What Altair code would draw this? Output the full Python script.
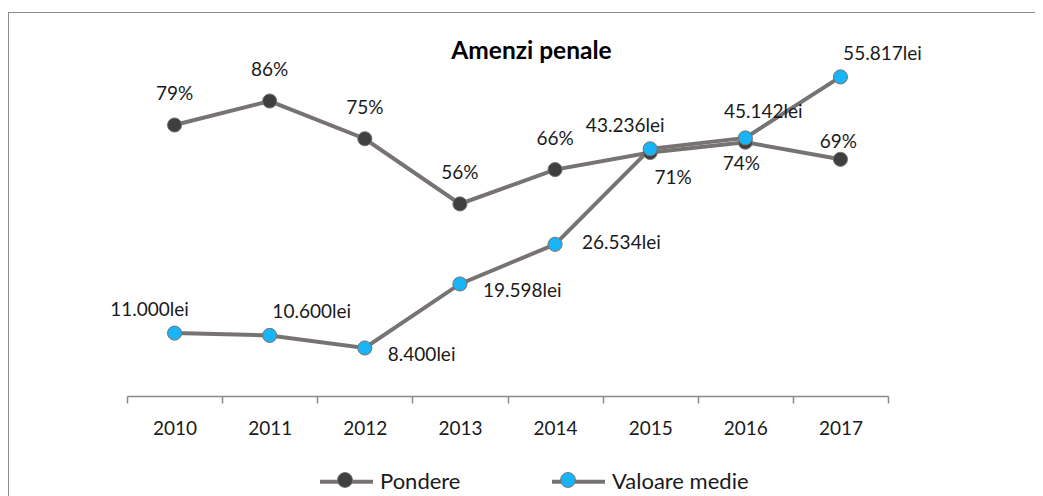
import altair as alt
import pandas as pd

# ---- data ----
years = ["2010", "2011", "2012", "2013", "2014", "2015", "2016", "2017"]
pondere = [79, 86, 75, 56, 66, 71, 74, 69]                     # %
valoare = [11000, 10600, 8400, 19598, 26534, 43236, 45142, 55817]  # lei
series_names = ["Pondere", "Valoare medie"]
pondere_label_pos = ["above", "above", "above", "above", "above", "below_right", "below", "above_near"]
valoare_label_pos = ["above_left", "above_right", "right", "right", "right_mid", "above_left", "above", "above_right"]

LINE = "#777373"
DARK = "#3f3f3f"
BLUE = "#18b4f5"
TXT = "#1a1a1a"
FRAME = "#8c8c8c"
FONT = "Lato"

df_p = pd.DataFrame({"year": years, "value": pondere, "series": series_names[0], "pos": pondere_label_pos})
df_p["label"] = df_p["value"].map(lambda v: f"{v}%")
df_v = pd.DataFrame({"year": years, "value": valoare, "series": series_names[1], "pos": valoare_label_pos})
df_v["label"] = df_v["value"].map(lambda v: f"{v:,}".replace(",", ".") + "lei")

x_enc = alt.X("year:N", sort=years,
              scale=alt.Scale(paddingInner=0, paddingOuter=0),
              axis=alt.Axis(title=None, labelAngle=0, tickBand="extent", grid=False,
                            domainColor="#8a8a8a", domainWidth=1.5, tickColor="#8a8a8a",
                            tickWidth=1.5, tickSize=7, labelFont=FONT, labelFontSize=19,
                            labelColor=TXT, labelPadding=16))
yp_scale = alt.Scale(domain=[0, 100], nice=False, zero=True)
yv_scale = alt.Scale(domain=[0, 60000], nice=False, zero=True)

legend_common = dict(title=None, orient="none", direction="horizontal", legendX=191, legendY=400,
                     symbolSize=2809, labelFont=FONT, labelFontSize=22, labelColor=TXT,
                     labelOffset=5, columnPadding=83, padding=0)

stroke_enc = alt.Stroke("series:N",
                        scale=alt.Scale(range=[LINE, LINE]),
                        legend=alt.Legend(symbolType="stroke", symbolStrokeWidth=4, zindex=1,
                                          **legend_common))
circle_path = "M-0.28,0A0.28,0.28 0 1,0 0.28,0A0.28,0.28 0 1,0 -0.28,0Z"
fill_enc = alt.Fill("series:N",
                    scale=alt.Scale(domain=series_names, range=[DARK, BLUE]),
                    legend=alt.Legend(symbolType=circle_path, symbolStrokeColor=LINE,
                                      symbolStrokeWidth=1, zindex=2, labelOpacity=0,
                                      **legend_common))

# outer chart frame (only its top and left edges fall inside the picture)
frame_base = alt.Chart(pd.DataFrame({"a": [0]}))
frame_top = frame_base.mark_rule(stroke=FRAME, strokeWidth=1).encode(
    x=alt.value(-119.5), x2=alt.value(3000), y=alt.value(-40.5))
frame_left = frame_base.mark_rule(stroke=FRAME, strokeWidth=1).encode(
    x=alt.value(-118.5), y=alt.value(-40.5), y2=alt.value(3000))

line_p = alt.Chart(df_p).mark_line(strokeWidth=4).encode(
    x=x_enc, y=alt.Y("value:Q", scale=yp_scale, axis=None), stroke=stroke_enc)
line_v = alt.Chart(df_v).mark_line(strokeWidth=4).encode(
    x=x_enc, y=alt.Y("value:Q", scale=yv_scale, axis=None), stroke=stroke_enc)
pt_p = alt.Chart(df_p).mark_point(filled=True, size=200, opacity=1, stroke=LINE, strokeWidth=1).encode(
    x=x_enc, y=alt.Y("value:Q", scale=yp_scale, axis=None), fill=fill_enc)
pt_v = alt.Chart(df_v).mark_point(filled=True, size=200, opacity=1, stroke=LINE, strokeWidth=1).encode(
    x=x_enc, y=alt.Y("value:Q", scale=yv_scale, axis=None), fill=fill_enc)

p_offsets = {
    "above": ("center", 0, -31),
    "below_right": ("center", 23, 26),
    "below": ("center", -4, 22),
    "above_near": ("center", -2, -17),
}
v_offsets = {
    "above_left": ("center", -25, -23),
    "above_right": ("center", 42, -23),
    "right": ("left", 23, 7),
    "right_mid": ("left", 27, -1),
    "above": ("center", 18, -26),
}

text_layers = []
for key, (al, dx, dy) in p_offsets.items():
    text_layers.append(alt.Chart(df_p).transform_filter(alt.datum.pos == key).mark_text(
        align=al, baseline="middle", dx=dx, dy=dy, font=FONT, fontSize=19, color=TXT).encode(
        x=x_enc, y=alt.Y("value:Q", scale=yp_scale, axis=None), text="label:N"))
for key, (al, dx, dy) in v_offsets.items():
    text_layers.append(alt.Chart(df_v).transform_filter(alt.datum.pos == key).mark_text(
        align=al, baseline="middle", dx=dx, dy=dy, font=FONT, fontSize=19, color=TXT).encode(
        x=x_enc, y=alt.Y("value:Q", scale=yv_scale, axis=None), text="label:N"))

chart = alt.layer(frame_top, frame_left, line_p, line_v, pt_p, pt_v, *text_layers).resolve_scale(
    y="independent").properties(
    width=761, height=343,
    title=alt.TitleParams("Amenzi penale", anchor="middle", frame="group", font=FONT, fontSize=24.5,
                          fontWeight="bold", color="#000000", dx=24, offset=-41,
                          baseline="alphabetic", dy=30),
    autosize=alt.AutoSizeParams(type="none"),
    padding={"left": 119, "top": 45, "right": 147, "bottom": 108},
).configure_view(stroke=None)

chart.save("out.html", embed_options={"renderer": "svg", "actions": False})
